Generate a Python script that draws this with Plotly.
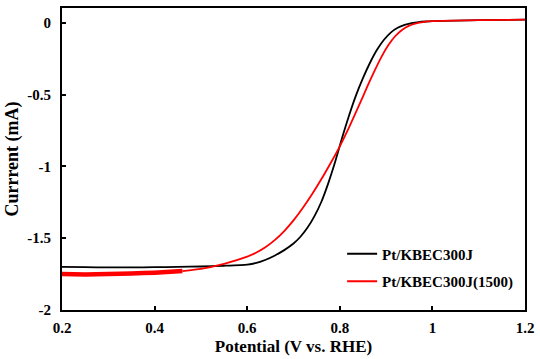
import plotly.graph_objects as go
import numpy as np

# Black: Pt/KBEC300J
black_v = [0.20, 0.25, 0.30, 0.35, 0.40, 0.45, 0.50, 0.55, 0.60, 0.62, 0.64, 0.66,
           0.68, 0.70, 0.715, 0.73, 0.745, 0.76, 0.775, 0.79, 0.805, 0.82, 0.835,
           0.85, 0.865, 0.88, 0.895, 0.91, 0.925, 0.94, 0.955, 0.97, 0.985, 1.00,
           1.10, 1.20]
black_i = [-1.700, -1.702, -1.703, -1.703, -1.702, -1.700, -1.697, -1.692, -1.684, -1.672,
           -1.650, -1.620, -1.583, -1.537, -1.490, -1.428, -1.348, -1.248, -1.118, -0.968,
           -0.800, -0.645, -0.505, -0.385, -0.280, -0.190, -0.120, -0.068, -0.035, -0.015,
           -0.003, 0.005, 0.009, 0.012, 0.018, 0.022]

# Red: Pt/KBEC300J(1500)
red_v = [0.20, 0.25, 0.30, 0.35, 0.40, 0.46, 0.50, 0.55, 0.60, 0.62, 0.64, 0.66,
         0.68, 0.70, 0.72, 0.74, 0.76, 0.78, 0.80, 0.82, 0.84, 0.86, 0.875, 0.89,
         0.905, 0.92, 0.935, 0.95, 0.965, 0.98, 1.00, 1.10, 1.20]
red_i = [-1.750, -1.752, -1.750, -1.746, -1.740, -1.729, -1.713, -1.678, -1.628, -1.600,
         -1.562, -1.512, -1.450, -1.376, -1.290, -1.194, -1.090, -0.978, -0.860, -0.728,
         -0.586, -0.440, -0.335, -0.237, -0.155, -0.092, -0.048, -0.020, -0.004, 0.005,
         0.011, 0.018, 0.022]
red_noisy_end = 0.46

x_ticks = [0.2, 0.4, 0.6, 0.8, 1.0, 1.2]
x_tick_text = ["0.2", "0.4", "0.6", "0.8", "1", "1.2"]
y_ticks = [-2, -1.5, -1, -0.5, 0]
y_tick_text = ["-2", "-1.5", "-1", "-0.5", "0"]

FONT = "Liberation Serif"

rv = np.array(red_v)
ri = np.array(red_i)
m1 = rv <= red_noisy_end
m2 = rv >= red_noisy_end

fig = go.Figure()
fig.add_trace(go.Scatter(x=black_v, y=black_i, mode="lines", name="Pt/KBEC300J",
                         line=dict(color="black", width=1.8, shape="spline", smoothing=0.5),
                         legendgroup="a"))
fig.add_trace(go.Scatter(x=rv[m1], y=ri[m1], mode="lines", showlegend=False,
                         line=dict(color="#ff0000", width=4.5, shape="spline", smoothing=0.5),
                         legendgroup="b"))
fig.add_trace(go.Scatter(x=rv[m2], y=ri[m2], mode="lines", name="Pt/KBEC300J(1500)",
                         line=dict(color="#ff0000", width=1.8, shape="spline", smoothing=0.5),
                         legendgroup="b"))

axis_common = dict(showgrid=False, zeroline=False, showline=True, linecolor="black",
                   linewidth=2, mirror=True, ticks="inside", ticklen=4, tickwidth=1.5,
                   tickcolor="black")

fig.update_xaxes(range=[0.2, 1.2], tickvals=x_ticks, ticktext=x_tick_text,
                 ticklabelstandoff=3,
                 tickfont=dict(family=FONT, size=15, color="black", weight="bold"),
                 title=dict(text="Potential (V vs. RHE)", standoff=5,
                            font=dict(family=FONT, size=17, color="black", weight="bold")),
                 **axis_common)
fig.update_yaxes(range=[-2, 0.103], tickvals=y_ticks, ticktext=y_tick_text,
                 ticklabelstandoff=6,
                 tickfont=dict(family=FONT, size=15, color="black", weight="bold"),
                 title=dict(text="Currrent (mA)", standoff=4,
                            font=dict(family=FONT, size=18, color="black", weight="bold")),
                 **axis_common)

fig.update_layout(width=540, height=359,
                  margin=dict(l=62, r=13, t=6, b=48),
                  paper_bgcolor="white", plot_bgcolor="white",
                  legend=dict(x=0.605, y=0.24, xanchor="left", yanchor="top",
                              bgcolor="rgba(0,0,0,0)", itemwidth=30,
                              traceorder="grouped", tracegroupgap=5,
                              font=dict(family=FONT, size=15, color="black", weight="bold")))

fig.write_html("out.html")
